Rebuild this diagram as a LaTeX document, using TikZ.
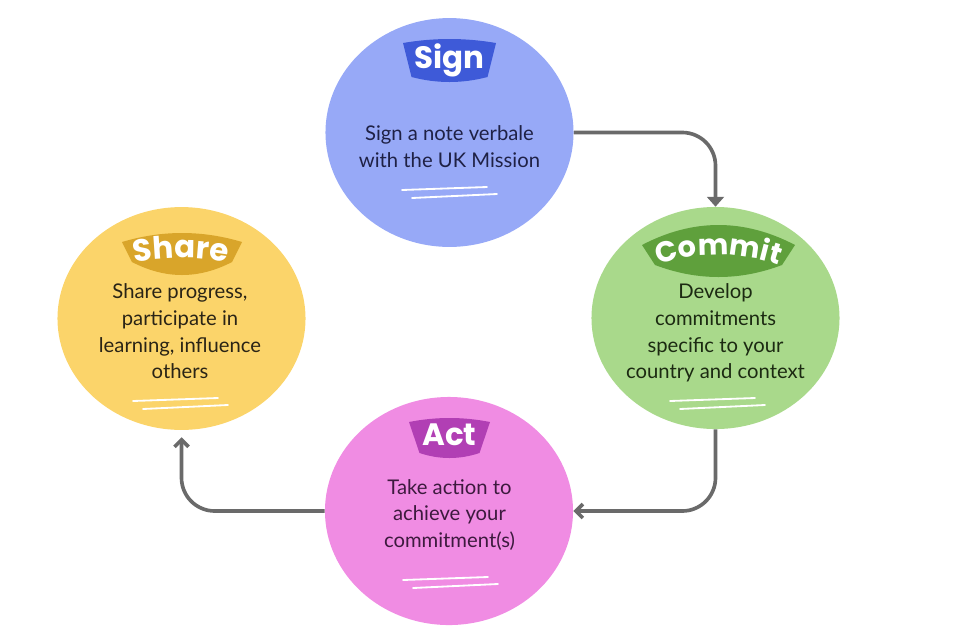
\documentclass[tikz,border=0pt]{standalone}
\usepackage{fontspec}
\setmainfont{Lato}
\newfontfamily\badgefont{Poppins}
\usetikzlibrary{shapes.geometric,arrows.meta,decorations.text}

\definecolor{signfill}{HTML}{97A9F7}
\definecolor{signdark}{HTML}{3E5AD8}
\definecolor{signink}{HTML}{1F2145}
\definecolor{commitfill}{HTML}{A9D98B}
\definecolor{commitdark}{HTML}{5FA03C}
\definecolor{commitink}{HTML}{1C2A12}
\definecolor{sharefill}{HTML}{FBD46A}
\definecolor{sharedark}{HTML}{D9A52A}
\definecolor{shareink}{HTML}{2A2416}
\definecolor{actfill}{HTML}{F08CE3}
\definecolor{actdark}{HTML}{B13FB4}
\definecolor{actink}{HTML}{3D1A3E}
\definecolor{loopgray}{HTML}{6A6A6A}

\def\bodysize{\fontsize{14.4}{19}\selectfont}
\def\tagsize{\badgefont\bfseries\fontsize{22}{24}\selectfont\color{white}}
\def\arcsize{\badgefont\bfseries\fontsize{20.5}{24}\selectfont\color{white}}

\begin{document}
\begin{tikzpicture}[x=.025cm,y=-.025cm,
    stage/.style={ellipse,inner sep=0,minimum width=6.2cm},
    blurb/.style={align=center,font=\bodysize},
    tagtext/.style={anchor=base,font=\tagsize},
    loop/.style={loopgray,line width=2.6pt,rounded corners=.83cm},
    scribble/.style={white,line width=1.3pt,line cap=round}]
  \useasboundingbox (0,0) rectangle (960,640);

  \node[stage,fill=signfill,minimum height=5.72cm] (sign) at (449.5,132.5) {};
  \node[stage,fill=commitfill,minimum height=5.55cm] (commit) at (715.5,318) {};
  \node[stage,fill=actfill,minimum height=5.7cm] (act) at (449,511) {};
  \node[stage,fill=sharefill,minimum height=5.57cm] (share) at (181.5,318.5) {};

  % badges: centre x / top half width / top corner y / top bulge / bottom half width / bottom corner y / bottom bulge
  \foreach \cx/\tw/\tc/\tb/\bw/\bc/\bb/\col in {449.5/46.5/43/4/38/77/5/signdark,
      718.5/76.5/245/20/63.5/265/12/commitdark,
      182/60/242/9/50/262/13/sharedark,
      449.5/40.5/422/4/30/453/5/actdark} {
    \fill[\col] (\cx-\tw,\tc) .. controls (\cx-\tw/3,\tc-4*\tb/3) and (\cx+\tw/3,\tc-4*\tb/3) .. (\cx+\tw,\tc)
      -- (\cx+\bw,\bc) .. controls (\cx+\bw/3,\bc+4*\bb/3) and (\cx-\bw/3,\bc+4*\bb/3) .. (\cx-\bw,\bc) -- cycle;
  }

  \node[tagtext] (signtag) at (449.5,68) {Sign};
  \node[tagtext] (acttag) at (449.5,445) {Act};
  \path[decorate,decoration={text along path,text align=center,text={|\arcsize|Commit}}]
    (628.5,279.1) arc[start angle=240,end angle=300,radius=180];
  \path[decorate,decoration={text along path,text align=center,text={|\tagsize|Share}}]
    (95.5,273.1) arc[start angle=250,end angle=290,radius=250];

  \node[blurb,text=signink] (signtxt) at (449.5,146.5) {Sign a note verbale\\with the UK Mission};
  \node[blurb,text=commitink] (committxt) at (715.5,333) {Develop\\commitments\\specific to your\\country and context};
  \node[blurb,text=shareink] (sharetxt) at (180,331.5) {Share progress,\\participate in\\learning, influence\\others};
  \node[blurb,text=actink] (acttxt) at (449.5,515) {Take action to\\achieve your\\commitment(s)};

  \foreach \x/\y in {402/190,670/401,133/401,403/580} {
    \draw[scribble] (\x,\y) -- ++(85,-3);
    \draw[scribble] (\x+10,\y+8) -- ++(85,-4);
  }

  \draw[loop,-{Triangle[width=12pt,length=7pt]}] (sign.east) -| (commit.north);
  \draw[loop,-{Straight Barb[width=10pt,length=5pt]}] (commit.south) |- (act.east);
  \draw[loop,-{Straight Barb[width=10pt,length=5pt]},shorten >=5pt] (act.west) -| (share.south);
\end{tikzpicture}
\end{document}
